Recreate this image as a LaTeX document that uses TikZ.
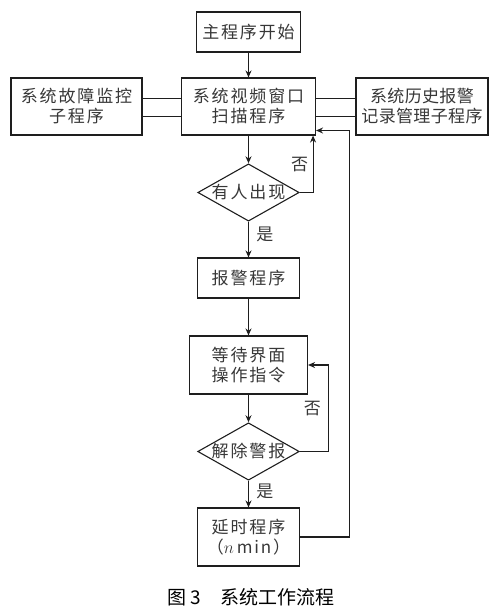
\documentclass[tikz,border=0pt]{standalone}
\usepackage{fontspec}
\usepackage{tikz}
\usetikzlibrary{arrows.meta,positioning,shapes.geometric}
\newfontfamily\cjk[LetterSpace=11]{Noto Sans CJK SC}
\newfontfamily\cjktight[LetterSpace=2]{Noto Sans CJK SC}
\newfontfamily\capfont{Noto Sans CJK SC}
\definecolor{flowline}{RGB}{30,30,30}
\definecolor{flowtext}{RGB}{55,55,55}

\begin{document}
\begin{tikzpicture}[
  x=1pt,y=-1pt,
  every node/.style={font=\cjk\fontsize{17}{20}\selectfont,text=flowtext},
  procbox/.style={draw=flowline,line width=1.1pt,minimum width=102pt,minimum height=40pt,align=center,inner sep=0pt},
  decision/.style={draw=flowline,line width=1.1pt,diamond,aspect=1.77,minimum width=101pt,minimum height=57pt,inner sep=0pt},
  arr/.style={-{Stealth[length=7pt,width=6pt]},line width=1.1pt,flowline},
  link/.style={line width=1.1pt,flowline}
]
\useasboundingbox (0,0) rectangle (495,610);

% Main column
\node[procbox,minimum width=104pt] (start) at (248.5,32) {主程序开始};
\node[procbox,minimum width=134pt,minimum height=57pt] (scan) at (248.5,106.5) {系统视频窗口\\扫描程序};
\node[decision] (seen) at (248.5,192.5) {有人出现};
\node[procbox] (alarm) at (248.5,278) {报警程序};
\node[procbox,minimum width=118pt,minimum height=58pt] (wait) at (248.5,365) {等待界面\\操作指令};
\node[decision,minimum width=100pt] (clear) at (248.5,451.5) {解除警报};
\node[procbox,minimum height=58pt] (delay) at (248.5,537) {延时程序\\（$n$\,min）};

% Side programs
\node[procbox,minimum width=131pt,minimum height=57pt] (fault) at (76.5,106.5) {系统故障监控\\子程序};
\node[procbox,minimum width=132pt,minimum height=57pt,font=\cjktight\fontsize{17}{20}\selectfont] (hist) at (422,106.5) {系统历史报警\\记录管理子程序};
\draw[link] ([yshift=8pt]fault.east) -- ([yshift=8pt]scan.west);
\draw[link] ([yshift=-10pt]fault.east) -- ([yshift=-10pt]scan.west);
\draw[link] ([yshift=8pt]scan.east) -- ([yshift=8pt]hist.west);
\draw[link] ([yshift=-10pt]scan.east) -- ([yshift=-10pt]hist.west);

% Arrows
\draw[arr] (start) -- (scan);
\draw[arr] (scan) -- (seen);
\draw[arr] (seen) -- (alarm) node[pos=0.35,right=4pt] (yes1) {是};
\draw[arr] (seen.east) -| ([xshift=-3pt]scan.south east) node[pos=0.75,left=1pt] (no1) {否};
\draw[arr] (alarm) -- (wait);
\draw[arr] (wait) -- (clear);
\draw[arr] (clear.east) -- ++(29,0) |- (wait.east) node[pos=0.25,left=4pt] (no2) {否};
\draw[arr] (clear) -- (delay) node[pos=0.4,right=4pt] (yes2) {是};
\draw[arr] (delay.east) -- ++(49.5,0) |- ([yshift=-24pt]scan.east);

% Caption
\node[font=\capfont\fontsize{19}{22}\selectfont,text=black] (caption) at (251,597) {图 3　系统工作流程};
\end{tikzpicture}
\end{document}
